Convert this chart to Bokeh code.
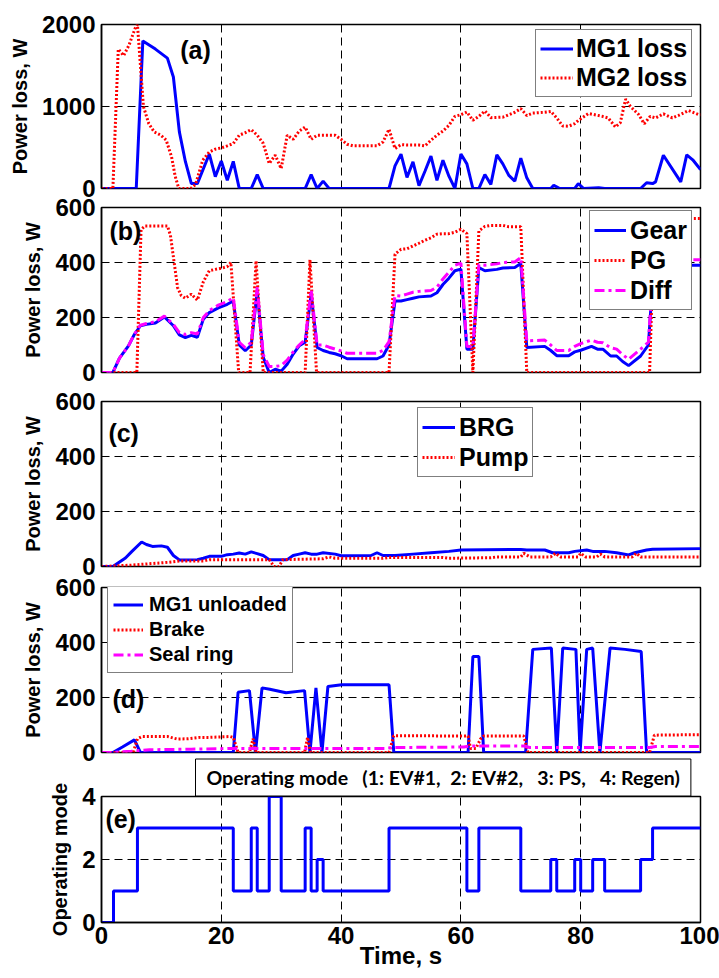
from bokeh.plotting import figure
from bokeh.models import Range1d, FixedTicker, Legend, LegendItem, Label, Title
from bokeh.layouts import column
from bokeh.embed import file_html
from bokeh.resources import INLINE

FONT = "Liberation Sans"
BLUE, RED, MAG = "#0000FF", "#FF0000", "#FF00FF"

time_ticks = [0, 20, 40, 60, 80, 100]
power_ticks_a = [0, 1000, 2000]
power_ticks = [0, 200, 400, 600]
mode_ticks = [0, 2, 4]

# ---- (a) motor/generator losses: (time s, W)
mg1_loss = [(0, 0), (5.8, 0), (6.9, 1800), (9, 1700), (11, 1590), (12, 1360), (13, 690), (14, 330),
            (15, 60), (16, 60), (18, 420), (19, 145), (20, 335), (21, 100), (22, 330), (23, 0), (25, 0),
            (26, 170), (27, 0), (34, 0), (35, 170), (36, 0), (37, 90), (38, 0), (48, 0), (49, 275),
            (50, 420), (51, 135), (52, 325), (53, 35), (54, 210), (55, 395), (56, 100), (57, 345),
            (58, 150), (59, 0), (60, 420), (61, 300), (62, 0), (63, 0), (64, 170), (65, 50), (66, 410),
            (67, 300), (68, 160), (69, 90), (70, 370), (71, 130), (72, 0), (75, 0), (75.5, 40),
            (76.5, 0), (79, 0), (79.6, 60), (80.5, 0), (83, 10), (84, 0), (90, 0), (91, 70), (92, 60),
            (92.5, 80), (93.8, 405), (96.7, 80), (97.7, 410), (98.7, 350), (100, 230)]
mg2_loss = [(0, 0), (1.9, 0), (2.8, 1700), (3.7, 1620), (4.6, 1750), (5.6, 1950), (6.0, 2000),
            (6.3, 1700), (7.0, 1000), (7.9, 790), (8.8, 690), (9.9, 650), (10.8, 590), (11.7, 385),
            (12.3, 150), (12.9, 0), (14.9, 0), (15.7, 50), (16.9, 345), (18, 445), (19, 480), (20, 495),
            (21, 520), (22, 548), (23, 650), (24, 680), (25, 718), (26, 650), (27, 550), (28, 304),
            (29, 406), (30, 243), (31, 650), (32, 600), (33, 700), (34, 750), (35, 600), (36, 650),
            (39, 650), (40, 600), (41, 540), (42, 520), (46, 520), (47, 568), (48, 722), (49, 487),
            (50, 535), (51, 530), (53, 530), (54, 520), (55, 588), (56, 650), (57, 700), (58, 770),
            (59, 880), (60, 900), (61, 933), (62, 832), (63, 880), (64, 945), (65, 864), (67, 870),
            (68, 900), (69, 930), (70, 974), (71, 890), (72, 920), (74, 930), (75, 940), (76, 860),
            (77, 763), (78, 760), (79, 790), (79.6, 829), (81.3, 915), (83.6, 880), (84.6, 860),
            (85.8, 750), (86.6, 800), (87.5, 1090), (88.3, 1000), (89.7, 900), (90.6, 790),
            (91.6, 880), (92.5, 860), (93.8, 910), (95.3, 860), (96.3, 890), (98, 950), (99.7, 900),
            (100, 900)]

# ---- (b) gear / planetary gear / differential losses
gear_loss = [(0, 0), (1.9, 0), (3, 52), (4.5, 97), (5.5, 139), (6.5, 170), (7.5, 175), (9, 180),
             (10.5, 202), (12, 170), (13, 137), (14, 127), (15, 135), (16, 128), (17, 194), (18, 218),
             (19.5, 235), (21, 248), (22, 260), (23, 100), (24, 79), (25, 100), (26, 297), (27, 55),
             (28, 0), (29, 12), (30, 5), (31, 30), (32, 67), (33, 97), (34, 110), (35, 285), (36, 91),
             (37, 80), (38, 73), (39, 68), (40, 61), (41, 50), (46, 50), (47, 60), (48, 100), (49, 260),
             (50, 260), (51, 265), (52, 270), (53, 275), (55, 278), (56, 290), (57, 320), (58, 343),
             (59, 370), (60, 376), (61, 85), (62, 85), (63, 382), (64, 370), (66, 375), (67, 380),
             (69, 382), (70, 396), (71, 91), (74, 95), (75, 80), (76, 61), (78, 61), (79, 75), (80, 81),
             (81.8, 95), (82.8, 85), (83.7, 85), (85, 60), (86, 60), (87, 40), (88, 25), (90, 60),
             (91.3, 100), (92.2, 390), (100, 390)]
pg_loss = [(0, 0), (5.9, 0), (6.6, 520), (7.3, 533), (11, 533), (11.5, 500), (12.7, 309), (13.3, 280),
           (14, 270), (15, 285), (16, 263), (17, 330), (18, 370), (19, 375), (20, 379), (21, 385),
           (21.6, 400), (22.9, 0), (24.8, 0), (25.8, 406), (27, 0), (34, 0), (34.8, 410), (35.9, 0),
           (48, 0), (49, 430), (50, 448), (51, 450), (52, 460), (53, 470), (54, 481), (55, 490),
           (56, 503), (57, 505), (58, 505), (59, 510), (60, 521), (61, 505), (62, 0), (63, 515),
           (64, 531), (65, 535), (67, 535), (68, 530), (70, 530), (71, 0), (91.5, 0), (92.3, 560),
           (100, 560)]
diff_loss = [(0, 0), (1.9, 0), (3, 52), (4.5, 97), (5.5, 140), (6.5, 172), (7.5, 178), (9, 185),
             (10.5, 205), (12, 175), (13, 145), (14, 138), (15, 145), (16, 140), (17, 200), (18, 225),
             (19.5, 245), (21, 258), (22, 272), (23, 110), (24, 90), (25, 110), (26, 310), (27, 65),
             (28, 22), (29, 22), (30, 25), (31, 45), (32, 75), (33, 100), (34, 120), (35, 300),
             (36, 100), (37, 100), (38, 92), (39, 85), (40, 78), (41, 70), (46, 70), (47, 80),
             (48, 112), (49, 280), (50, 278), (51, 285), (52, 292), (53, 295), (55, 298), (56, 310),
             (57, 340), (58, 365), (59, 390), (60, 398), (61, 95), (62, 95), (63, 392), (64, 390),
             (66, 395), (67, 400), (69, 402), (70, 418), (71, 115), (74, 118), (75, 100), (76, 80),
             (78, 80), (79, 95), (80, 105), (81.8, 118), (82.8, 110), (83.7, 108), (85, 90), (86, 85),
             (87, 65), (88, 48), (90, 85), (91.3, 110), (92.2, 410), (100, 410)]

# ---- (c) bearing / pump losses
brg_loss = [(0, 0), (1.9, 0), (4, 31), (5, 53), (6.7, 89), (7.5, 80), (8.5, 73), (10, 75), (11, 70),
            (12, 40), (13, 24), (16, 25), (17, 30), (18, 37), (20, 37), (21, 43), (22, 45), (23, 49),
            (24, 45), (25, 53), (26, 47), (27, 40), (28, 25), (31, 25), (32, 40), (33, 45), (34, 50),
            (35, 45), (36, 45), (37, 50), (39, 45), (40, 39), (45, 40), (46, 50), (47, 40), (49, 40),
            (52, 45), (55, 50), (58, 55), (60, 60), (70, 62), (71, 60), (74, 60), (75.3, 50), (78, 50),
            (79, 55), (81, 60), (82, 55), (84, 55), (86, 50), (88, 42), (89, 50), (91, 60), (92, 63),
            (100, 65)]
pump_loss = [(0, 0), (5, 5), (8, 10), (11, 15), (13, 20), (17, 20), (18, 25), (28, 25), (28.8, 0),
             (29.6, 0), (30.3, 25), (37, 28), (38, 35), (39, 30), (47, 30), (48, 33), (57, 33),
             (58, 30), (65, 32), (66, 35), (70, 35), (70.5, 48), (71.5, 35), (75, 35), (75.8, 48),
             (76.6, 35), (79.6, 35), (80, 48), (80.8, 35), (82.7, 35), (83.3, 45), (84, 35),
             (88.6, 35), (89.3, 48), (90, 35), (100, 35)]

# ---- (d) MG1 unloaded / brake / seal ring losses
mg1_unloaded = [(0, 0), (1.9, 0), (3.5, 20), (5.5, 46), (6.5, 0), (22, 0), (22.8, 219), (24.7, 225),
                (25.7, 0), (26.8, 235), (28.1, 230), (30.8, 217), (33.9, 225), (34.8, 0), (35.8, 235),
                (36.8, 0), (37.8, 240), (40.1, 246), (48, 246), (48.8, 0), (61.2, 0), (62, 349),
                (63, 349), (63.8, 0), (70.8, 0), (72, 375), (75.1, 380), (76, 0), (77, 380),
                (79.2, 375), (79.9, 0), (81, 375), (82, 380), (83.2, 0), (84.9, 380), (87.4, 375),
                (90.1, 367), (91, 0), (100, 0)]
brake_loss = [(0, 0), (5.3, 0), (6, 50), (6.8, 58), (11, 58), (12.6, 49), (14.5, 50), (16.5, 55),
              (18, 55), (21.5, 58), (22, 55), (22.8, 0), (24.7, 0), (25.3, 50), (25.8, 0), (33.9, 0),
              (34.4, 55), (34.9, 0), (48, 0), (48.8, 61), (61.2, 60), (61.6, 15), (62.5, 15),
              (63.3, 50), (63.8, 60), (70.5, 60), (71.2, 0), (91.5, 0), (92.3, 63), (100, 65)]
seal_loss = [(0, 0), (1.9, 0), (5, 5), (8, 10), (15, 12), (22, 15), (47.5, 15), (48.5, 18),
             (60.5, 20), (61.5, 24), (70.5, 24), (71.5, 18), (91.5, 18), (92.5, 22), (100, 22)]

# ---- (e) operating mode (step, value holds until next time)
mode_time = [0, 2, 6, 22, 25, 26, 28, 30, 34, 35, 36, 37, 48, 61, 63, 70, 75, 76, 79, 80, 82, 84, 90,
             92, 100]
mode_value = [0, 1, 3, 1, 3, 1, 4, 1, 3, 1, 2, 1, 3, 1, 3, 1, 2, 1, 2, 1, 2, 1, 2, 3, 3]
NB = "\u00a0"
mode_caption = ("Operating mode" + NB * 2 + " (1: EV#1," + NB + " 2: EV#2," + NB * 2 + " 3: PS,"
                + NB * 2 + " 4: Regen)")


def xs(seq):
    return [a for a, b in seq]


def ys(seq):
    return [b for a, b in seq]


def panel(ymax, yticks, top, fh, bottom, shift, ylabel, with_xaxis=False):
    p = figure(frame_width=599, frame_height=fh, x_range=Range1d(0, 100), y_range=Range1d(0, ymax),
               output_backend="svg", toolbar_location=None,
               min_border_left=101, min_border_right=19, min_border_top=top, min_border_bottom=bottom,
               x_axis_location="below" if with_xaxis else None, margin=(shift, 0, 0, 0))
    p.background_fill_color = "white"
    p.border_fill_alpha = 0.0
    p.outline_line_color = "black"
    p.outline_line_width = 1.5
    p.outline_line_alpha = 1.0

    ax = p.yaxis[0]
    ax.ticker = FixedTicker(ticks=yticks)
    ax.axis_line_color = "black"
    ax.axis_line_width = 1.5
    ax.major_tick_in = 5
    ax.major_tick_out = 0
    ax.minor_tick_line_color = None
    ax.major_label_standoff = 6
    ax.major_label_text_font = FONT
    ax.major_label_text_font_style = "bold"
    ax.major_label_text_font_size = "24px"
    ax.major_label_text_color = "black"
    ax.axis_label = ylabel
    ax.axis_label_text_font = FONT
    ax.axis_label_text_font_style = "bold"
    ax.axis_label_text_font_size = "20px"
    ax.axis_label_text_color = "black"
    ax.axis_label_standoff = 8

    for g in p.ygrid:
        g.ticker = FixedTicker(ticks=yticks)
    for g in p.xgrid:
        g.ticker = FixedTicker(ticks=time_ticks)
    for g in list(p.xgrid) + list(p.ygrid):
        g.grid_line_color = "black"
        g.grid_line_dash = "8 5"
        g.grid_line_width = 1
        g.grid_line_alpha = 1.0

    if with_xaxis:
        bx = p.xaxis[0]
        bx.ticker = FixedTicker(ticks=time_ticks)
        bx.axis_line_color = "black"
        bx.axis_line_width = 1.5
        bx.major_tick_in = 5
        bx.major_tick_out = 0
        bx.minor_tick_line_color = None
        bx.major_label_standoff = 4
        bx.major_label_text_font = FONT
        bx.major_label_text_font_style = "bold"
        bx.major_label_text_font_size = "24px"
        bx.major_label_text_color = "black"
        bx.axis_label = "Time, s"
        bx.axis_label_text_font = FONT
        bx.axis_label_text_font_style = "bold"
        bx.axis_label_text_font_size = "24px"
        bx.axis_label_text_color = "black"
        bx.axis_label_standoff = -5
    return p


def add_legend(p, items, loc, font_size, glyph_w, row_h, standoff, pad):
    lg = Legend(items=[LegendItem(label=t, renderers=[r]) for t, r in items], location=loc,
                margin=0, padding=pad, spacing=0, label_standoff=standoff,
                glyph_width=glyph_w, glyph_height=row_h, label_height=row_h,
                label_text_font=FONT, label_text_font_style="bold", label_text_font_size=font_size,
                label_text_color="black", border_line_color="black", border_line_width=1.5,
                background_fill_color="white", background_fill_alpha=1.0)
    p.add_layout(lg)


def tag(p, text, x, y):
    p.add_layout(Label(x=x, y=y, text=text, text_font=FONT, text_font_style="bold",
                       text_font_size="25px", text_align="center", text_baseline="middle",
                       text_color="black"))


solid = dict(line_width=3)
dotted = dict(line_width=3, line_dash="2 2")
dashdot = dict(line_width=3, line_dash="10 4 3 4")

# (a)
pa = panel(2000, power_ticks_a, 24, 164, 16, 0, "Power loss, W")
ra1 = pa.line(xs(mg1_loss), ys(mg1_loss), line_color=BLUE, **solid)
ra2 = pa.line(xs(mg2_loss), ys(mg2_loss), line_color=RED, **dotted)
add_legend(pa, [("MG1 loss", ra1), ("MG2 loss", ra2)], (434, 91), "25px", 33, 29, 3, 4)
tag(pa, "(a)", 15.7, 1683)

# (b)
pb = panel(600, power_ticks, 16, 165, 16, -13, "Power loss, W")
rb1 = pb.line(xs(gear_loss), ys(gear_loss), line_color=BLUE, **solid)
rb2 = pb.line(xs(pg_loss), ys(pg_loss), line_color=RED, **dotted)
rb3 = pb.line(xs(diff_loss), ys(diff_loss), line_color=MAG, **dashdot)
add_legend(pb, [("Gear", rb1), ("PG", rb2), ("Diff", rb3)], (488, 62), "25px", 32, 30, 4, 4)
tag(pb, "(b)", 4.0, 516)

# (c)
pc = panel(600, power_ticks, 16, 165, 16, -3, "Power loss, W")
rc1 = pc.line(xs(brg_loss), ys(brg_loss), line_color=BLUE, **solid)
rc2 = pc.line(xs(pump_loss), ys(pump_loss), line_color=RED, **dotted)
add_legend(pc, [("BRG", rc1), ("Pump", rc2)], (316, 89), "25px", 33, 30, 4, 4)
tag(pc, "(c)", 3.7, 484)

# (d)
pd_ = panel(600, power_ticks, 16, 165, 16, -11, "Power loss, W")
rd1 = pd_.line(xs(mg1_unloaded), ys(mg1_unloaded), line_color=BLUE, **solid)
rd2 = pd_.line(xs(brake_loss), ys(brake_loss), line_color=RED, **dotted)
rd3 = pd_.line(xs(seal_loss), ys(seal_loss), line_color=MAG, **dashdot)
add_legend(pd_, [("MG1 unloaded", rd1), ("Brake", rd2), ("Seal ring", rd3)], (6, 79), "20px", 30,
           25, 6, 5)
tag(pd_, "(d)", 4.5, 196)

# (e)
pe = panel(4, mode_ticks, 45, 126, 56, -17, "Operating mode", with_xaxis=True)
pe.step(mode_time, mode_value, mode="after", line_color=BLUE, line_width=3)
tag(pe, "(e)", 3.2, 3.3)
pe.add_layout(Title(text=mode_caption, align="left", offset=94, standoff=1,
                    text_font="Lato", text_font_style="bold", text_font_size="19.5px",
                    text_color="black", border_line_color="black", border_line_width=1,
                    background_fill_color="white", padding=dict(x=11, y=7)), "above")

layout = column(pa, pb, pc, pd_, pe, spacing=0)
open("out.html", "w").write(file_html(layout, INLINE))
